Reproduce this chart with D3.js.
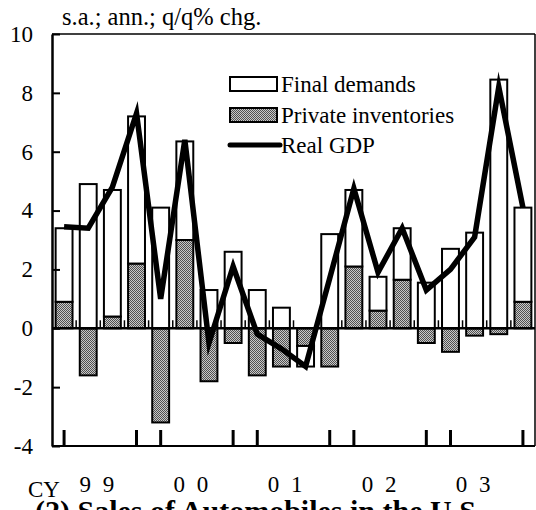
<!DOCTYPE html>
<html>
<head>
<meta charset="utf-8">
<script src="https://cdn.jsdelivr.net/npm/d3@7"></script>
<style>
  body { margin: 0; background: #fff; }
  svg { display: block; }
  svg text { font-family: "Liberation Serif", "Times New Roman", Times, "DejaVu Serif", serif; }
</style>
</head>
<body>
<div class="chart"></div>
<script>
const quarters = ['99Q1', '99Q2', '99Q3', '99Q4', '00Q1', '00Q2', '00Q3', '00Q4',
  '01Q1', '01Q2', '01Q3', '01Q4', '02Q1', '02Q2', '02Q3', '02Q4',
  '03Q1', '03Q2', '03Q3', '03Q4'];
const finalDemands = [2.5, 4.9, 4.3, 5.0, 4.1, 3.35, 1.3, 2.6, 1.3, 0.7,
  -0.7, 3.2, 2.6, 1.15, 1.75, 1.55, 2.7, 3.25, 8.45, 3.2];
const inventories = [0.9, -1.6, 0.4, 2.2, -3.2, 3.0, -1.8, -0.5, -1.6, -1.3,
  -0.6, -1.3, 2.1, 0.6, 1.65, -0.5, -0.8, -0.25, -0.2, 0.9];
const realGDP = [3.45, 3.4, 4.8, 7.3, 1.0, 6.4, -0.5, 2.1, -0.2, -0.7,
  -1.3, 1.7, 4.75, 1.9, 3.4, 1.3, 2.0, 3.1, 8.2, 4.1];
const yearLabels = ['9 9', '0 0', '0 1', '0 2', '0 3'];
const yTicks = [-4, -2, 0, 2, 4, 6, 8, 10];

function displayChart() {
  const w = 536;
  const h = 510;
  const margin = { top: 34, right: 1, bottom: 64, left: 52 };

  const svg = d3.select('.chart')
    .append('svg')
    .attr('width', w)
    .attr('height', h);

  const defs = svg.append('defs');
  const pat = defs.append('pattern')
    .attr('id', 'dots')
    .attr('width', 2)
    .attr('height', 2)
    .attr('patternUnits', 'userSpaceOnUse');
  pat.append('rect').attr('width', 2).attr('height', 2).attr('fill', '#c8c8c8');
  pat.append('rect').attr('width', 1).attr('height', 1).attr('fill', '#505050');
  pat.append('rect').attr('x', 1).attr('y', 1).attr('width', 1).attr('height', 1).attr('fill', '#505050');

  const xScale = d3.scaleBand()
    .domain(quarters)
    .range([margin.left, w - margin.right])
    .paddingInner(0.3)
    .paddingOuter(0.15);
  const yScale = d3.scaleLinear()
    .domain([-4, 10])
    .range([h - margin.bottom, margin.top]);

  const rows = quarters.map((q, i) => ({
    quarter: q,
    inventories: inventories[i],
    finalDemands: finalDemands[i]
  }));
  const stacked = d3.stack()
    .keys(['inventories', 'finalDemands'])
    .offset(d3.stackOffsetDiverging)(rows);

  const fills = { inventories: 'url(#dots)', finalDemands: '#fff' };

  svg.append('g')
    .selectAll('g')
    .data(stacked)
    .enter()
    .append('g')
    .attr('fill', (s) => fills[s.key])
    .selectAll('rect')
    .data((s) => s)
    .enter()
    .append('rect')
    .attr('x', (d) => xScale(d.data.quarter))
    .attr('y', (d) => yScale(Math.max(d[0], d[1])))
    .attr('width', xScale.bandwidth())
    .attr('height', (d) => Math.abs(yScale(d[0]) - yScale(d[1])))
    .attr('stroke', '#000')
    .attr('stroke-width', 2);

  // frame
  svg.append('line')
    .attr('x1', margin.left).attr('x2', w - margin.right)
    .attr('y1', margin.top).attr('y2', margin.top)
    .attr('stroke', '#000').attr('stroke-width', 1.5);
  svg.append('line')
    .attr('x1', w - margin.right).attr('x2', w - margin.right)
    .attr('y1', margin.top).attr('y2', h - margin.bottom)
    .attr('stroke', '#000').attr('stroke-width', 1.5);
  svg.append('line')
    .attr('x1', margin.left).attr('x2', w - margin.right)
    .attr('y1', yScale(-4)).attr('y2', yScale(-4))
    .attr('stroke', '#000').attr('stroke-width', 2);

  // zero line with category boundary ticks
  svg.append('line')
    .attr('x1', margin.left).attr('x2', w - margin.right)
    .attr('y1', yScale(0)).attr('y2', yScale(0))
    .attr('stroke', '#000').attr('stroke-width', 2.5);
  svg.append('g')
    .selectAll('line')
    .data(quarters.slice(1))
    .enter()
    .append('line')
    .attr('x1', (d) => xScale(d) - xScale.step() * 0.15)
    .attr('x2', (d) => xScale(d) - xScale.step() * 0.15)
    .attr('y1', yScale(0) - 8)
    .attr('y2', yScale(0))
    .attr('stroke', '#000')
    .attr('stroke-width', 1.5);

  // year ticks at Q1 and Q4
  svg.append('g')
    .selectAll('line')
    .data(quarters.filter((q) => q.endsWith('Q1') || q.endsWith('Q4')))
    .enter()
    .append('line')
    .attr('x1', (d) => xScale(d) + xScale.bandwidth() / 2)
    .attr('x2', (d) => xScale(d) + xScale.bandwidth() / 2)
    .attr('y1', yScale(-4) - 16)
    .attr('y2', yScale(-4))
    .attr('stroke', '#000')
    .attr('stroke-width', 3);

  // y axis
  const yAxis = svg.append('g')
    .attr('class', 'y-axis')
    .attr('transform', `translate(${margin.left}, 0)`)
    .call(d3.axisLeft(yScale)
      .tickValues(yTicks)
      .tickFormat((d) => String(d))
      .tickSizeInner(-8)
      .tickSizeOuter(0)
      .tickPadding(19));
  yAxis.attr('font-family', null).attr('font-size', null);
  yAxis.select('.domain').attr('stroke-width', 2.5);
  yAxis.selectAll('.tick line').attr('stroke-width', 2);
  yAxis.selectAll('text')
    .style('font-size', '23px')
    .attr('fill', '#000');

  // Real GDP line
  const line = d3.line()
    .x((d, i) => xScale(quarters[i]) + xScale.bandwidth() / 2)
    .y((d) => yScale(d));
  svg.append('path')
    .datum(realGDP)
    .attr('d', line)
    .attr('fill', 'none')
    .attr('stroke', '#000')
    .attr('stroke-width', 5.5)
    .attr('stroke-linejoin', 'miter')
    .attr('stroke-miterlimit', 6);

  // legend
  const legend = svg.append('g').attr('transform', 'translate(230, 0)');
  legend.append('rect')
    .attr('x', 0).attr('y', 77).attr('width', 47).attr('height', 14)
    .attr('fill', '#fff').attr('stroke', '#000').attr('stroke-width', 2);
  legend.append('rect')
    .attr('x', 0).attr('y', 108).attr('width', 47).attr('height', 14)
    .attr('fill', 'url(#dots)').attr('stroke', '#000').attr('stroke-width', 2);
  legend.append('line')
    .attr('x1', 0).attr('x2', 50).attr('y1', 145).attr('y2', 145)
    .attr('stroke', '#000').attr('stroke-width', 5).attr('stroke-linecap', 'round');
  const legendLabels = ['Final demands', 'Private inventories', 'Real GDP'];
  legend.selectAll('text.lg')
    .data(legendLabels)
    .enter()
    .append('text')
    .attr('class', 'lg')
    .attr('x', 51)
    .attr('y', (d, i) => 92 + i * 30.5)
    .style('font-size', '23px')
    .text((d) => d);

  // unit note
  svg.append('text')
    .attr('x', 62)
    .attr('y', 25)
    .style('font-size', '24.5px')
    .text('s.a.; ann.; q/q% chg.');

  // x labels
  svg.append('text')
    .attr('x', 28)
    .attr('y', 497)
    .style('font-size', '23px')
    .text('CY');
  svg.selectAll('text.yr')
    .data(yearLabels)
    .enter()
    .append('text')
    .attr('class', 'yr')
    .attr('x', (d, i) => xScale(quarters[i * 4 + 1]) + xScale.step() * 0.85 - 2 - 2.5 * i)
    .attr('y', 492)
    .style('font-size', '23px')
    .attr('text-anchor', 'middle')
    .attr('letter-spacing', 3)
    .text((d) => d);

  // next panel title (cut off at bottom edge)
  svg.append('text')
    .attr('x', 35)
    .attr('y', 521)
    .style('font-size', '30px')
    .attr('font-weight', 'bold')
    .text('(2) Sales of Automobiles in the U.S.');
}

displayChart();
</script>
</body>
</html>
